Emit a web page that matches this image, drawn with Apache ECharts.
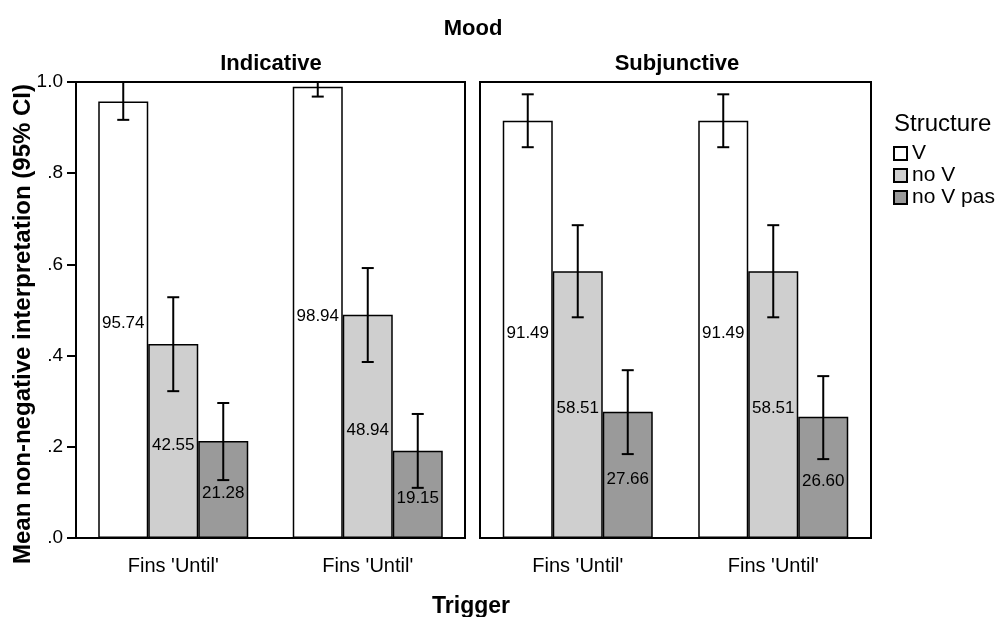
<!DOCTYPE html>
<html>
<head>
<meta charset="utf-8">
<script src="https://cdn.jsdelivr.net/npm/echarts@6/dist/echarts.min.js"></script>
<style>html,body{margin:0;padding:0;background:#fff}#chart{width:998px;height:617px}</style>
</head>
<body>
<div id="chart"></div>
<script>
// ---- data ----
const categories = ["Fins 'Until'", "Fins 'Until'"];
const moods = ['Indicative', 'Subjunctive'];
const structures = ['V', 'no V', 'no V pas'];
const yTicks = [0, 0.2, 0.4, 0.6, 0.8, 1.0];

// Indicative panel: means and 95% CI bounds per category
const indV = [0.9574, 0.9894];
const indNoV = [0.4255, 0.4894];
const indNoVPas = [0.2128, 0.1915];
const indVLo = [0.917, 0.968];
const indVHi = [1.0, 1.0];
const indNoVLo = [0.322, 0.386];
const indNoVHi = [0.528, 0.592];
const indNoVPasLo = [0.127, 0.110];
const indNoVPasHi = [0.296, 0.272];

// Subjunctive panel
const subV = [0.9149, 0.9149];
const subNoV = [0.5851, 0.5851];
const subNoVPas = [0.2766, 0.2660];
const subVLo = [0.857, 0.857];
const subVHi = [0.973, 0.973];
const subNoVLo = [0.484, 0.484];
const subNoVHi = [0.686, 0.686];
const subNoVPasLo = [0.184, 0.173];
const subNoVPasHi = [0.368, 0.355];

// ---- styles ----
const FONT = 'Liberation Sans, Arial, sans-serif';
const colors = ['#ffffff', '#cfcfcf', '#9a9a9a'];
const BAR_W = 50;

const panels = [
  { means: [indV, indNoV, indNoVPas], lo: [indVLo, indNoVLo, indNoVPasLo], hi: [indVHi, indNoVHi, indNoVPasHi] },
  { means: [subV, subNoV, subNoVPas], lo: [subVLo, subNoVLo, subNoVPasLo], hi: [subVHi, subNoVHi, subNoVPasHi] }
];

const grids = [
  { left: 76, top: 82, width: 389, height: 456 },
  { left: 480, top: 82, width: 391, height: 456 }
];

function fmtY(v) {
  const r = Math.round(v * 10);
  if (r === 10) return '1.0';
  return '.' + r;
}

const series = [];
panels.forEach((p, gi) => {
  structures.forEach((s, k) => {
    series.push({
      type: 'bar', name: s, xAxisIndex: gi, yAxisIndex: gi,
      data: p.means[k], barWidth: BAR_W, barGap: '0%',
      itemStyle: { color: colors[k], borderColor: '#000', borderWidth: 1.5 },
      label: {
        show: true, position: 'inside', offset: [0, 4],
        formatter: (q) => (q.value * 100).toFixed(2),
        fontFamily: FONT, fontSize: 17, color: '#000'
      },
      emphasis: { disabled: true }, animation: false, z: 2
    });
  });
  const ebData = [];
  structures.forEach((s, k) => {
    categories.forEach((c, ci) => {
      ebData.push([ci, k, p.lo[k][ci], p.hi[k][ci]]);
    });
  });
  series.push({
    type: 'custom', name: 'ci' + gi, xAxisIndex: gi, yAxisIndex: gi,
    data: ebData, encode: { x: 0, y: [2, 3] }, z: 5, animation: false,
    renderItem: function (params, api) {
      const ci = api.value(0), k = api.value(1);
      const lo = api.coord([ci, api.value(2)]);
      const hi = api.coord([ci, api.value(3)]);
      const x = lo[0] + (k - 1) * BAR_W;
      const cap = 6;
      const st = { stroke: '#000', lineWidth: 2 };
      return {
        type: 'group', children: [
          { type: 'line', shape: { x1: x, y1: hi[1], x2: x, y2: lo[1] }, style: st },
          { type: 'line', shape: { x1: x - cap, y1: hi[1], x2: x + cap, y2: hi[1] }, style: st },
          { type: 'line', shape: { x1: x - cap, y1: lo[1], x2: x + cap, y2: lo[1] }, style: st }
        ]
      };
    }
  });
});

const titleStyle = { fontFamily: FONT, fontSize: 22, fontWeight: 'bold', color: '#000' };

const option = {
  backgroundColor: '#fff',
  animation: false,
  textStyle: { fontFamily: FONT },
  title: [
    { text: 'Mood', left: 473, top: 18, padding: 0, textAlign: 'center', textStyle: titleStyle },
    { text: moods[0], left: 271, top: 53, padding: 0, textAlign: 'center', textStyle: titleStyle },
    { text: moods[1], left: 677, top: 53, padding: 0, textAlign: 'center', textStyle: titleStyle },
    { text: 'Trigger', left: 471, top: 595, padding: 0, textAlign: 'center', textStyle: Object.assign({}, titleStyle, { fontSize: 23 }) },
    { text: 'Structure', left: 894, top: 112, padding: 0, textStyle: { fontFamily: FONT, fontSize: 24, fontWeight: 'normal', color: '#000' } }
  ],
  legend: {
    data: structures, orient: 'vertical', left: 893, top: 143, padding: 0,
    itemWidth: 13, itemHeight: 13, itemGap: 1, icon: 'rect',
    textStyle: { fontFamily: FONT, fontSize: 21, color: '#000', lineHeight: 21 },
    selectedMode: false
  },
  graphic: [{
    type: 'text', x: 23, y: 324, rotation: Math.PI / 2,
    style: { text: 'Mean non-negative interpretation (95% CI)', font: 'bold 24px ' + FONT, fill: '#000', align: 'center', verticalAlign: 'middle' }
  }],
  grid: grids.map(g => Object.assign({ show: true, borderColor: '#000', borderWidth: 2, backgroundColor: 'transparent' }, g)),
  xAxis: grids.map((g, i) => ({
    type: 'category', gridIndex: i, data: categories,
    axisLine: { lineStyle: { color: '#000', width: 2 } },
    axisTick: { alignWithLabel: true, length: 10, lineStyle: { color: '#000', width: 2 } },
    axisLabel: { fontFamily: FONT, fontSize: 20, color: '#000', margin: 18, interval: 0 },
    splitLine: { show: false }
  })),
  yAxis: grids.map((g, i) => ({
    type: 'value', gridIndex: i, min: 0, max: 1, interval: 0.2,
    axisLine: { show: true, lineStyle: { color: '#000', width: 2 } },
    axisTick: { show: i === 0, length: 9, lineStyle: { color: '#000', width: 2 } },
    axisLabel: { show: i === 0, fontFamily: FONT, fontSize: 19, color: '#000', margin: 13, formatter: fmtY },
    splitLine: { show: false }
  })),
  series: series
};

const chart = echarts.init(document.getElementById('chart'), null, { renderer: 'canvas' });
chart.setOption(option);
</script>
</body>
</html>
